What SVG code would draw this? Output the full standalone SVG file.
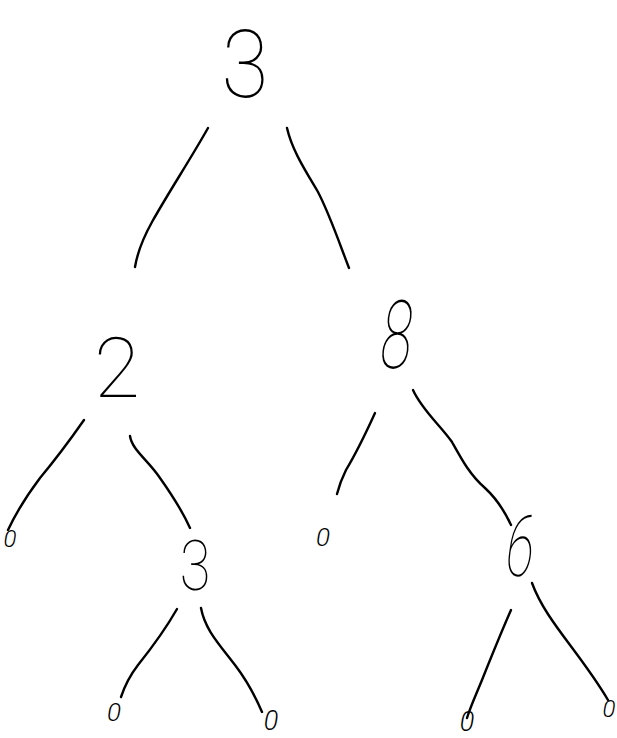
<svg xmlns="http://www.w3.org/2000/svg" width="617" height="738" viewBox="0 0 617 738">
<style>
.d{font-family:Roboto,"Liberation Sans",sans-serif;font-weight:100;fill:#000;text-anchor:middle}
.z{font-family:Roboto,"Liberation Sans",sans-serif;font-weight:300;font-style:italic;fill:#000;text-anchor:middle}
.e{fill:none;stroke:#000;stroke-width:2.4;stroke-linecap:round;stroke-linejoin:round}
</style>
<rect width="617" height="738" fill="#fff"/>
<g id="connectors">
<path class="e" d="M208,128 C190,160 170,190 152,222 C142,240 137,255 135,267"/>
<path class="e" d="M287,128 C292,150 305,170 318,192 C330,215 340,245 349,268"/>
<path class="e" d="M84,420 C70,440 55,460 40,478 C25,498 15,515 8,530"/>
<path class="e" d="M130,436 C132,450 148,460 160,478 C172,495 182,510 190,528"/>
<path class="e" d="M375,413 C365,435 355,455 346,470 C340,482 338,490 337,494"/>
<path class="e" d="M413,390 C422,410 440,425 452,442 C462,460 470,475 485,488 C498,500 505,512 511,525"/>
<path class="e" d="M177,609 C165,630 150,650 138,665 C128,678 124,688 121,697"/>
<path class="e" d="M201,608 C205,630 220,645 235,665 C248,682 256,698 262,712"/>
<path class="e" d="M511,610 C500,635 490,660 482,680 C475,697 470,708 467,718"/>
<path class="e" d="M532,583 C540,605 555,625 570,645 C585,665 598,683 608,700"/>
</g>
<g id="n-root" transform="translate(245,97) scale(0.9,1)"><text class="d" x="0" y="0" font-size="95">3</text></g>
<g id="n-2"><text class="d" x="117" y="397" font-size="84">2</text></g>
<g id="n-8" transform="translate(393,368) scale(0.6,1) skewX(-12)"><text class="d" x="0" y="0" font-size="95">8</text></g>
<g id="n-2-null"><text class="z" x="10" y="547" font-size="24">0</text></g>
<g id="n-3" transform="translate(195,590) scale(0.8,1)"><text class="d" x="0" y="0" font-size="70">3</text></g>
<g id="n-8-null"><text class="z" x="323" y="546" font-size="26">0</text></g>
<g id="n-6" transform="translate(517,576) scale(0.6,1) skewX(-12)"><text class="d" x="0" y="0" font-size="85">6</text></g>
<g id="n-3-null-l"><text class="z" x="114" y="721" font-size="26">0</text></g>
<g id="n-3-null-r"><text class="z" x="271" y="730" font-size="27">0</text></g>
<g id="n-6-null-l"><text class="z" x="467" y="731" font-size="27">0</text></g>
<g id="n-6-null-r"><text class="z" x="609" y="717" font-size="24">0</text></g>
</svg>
